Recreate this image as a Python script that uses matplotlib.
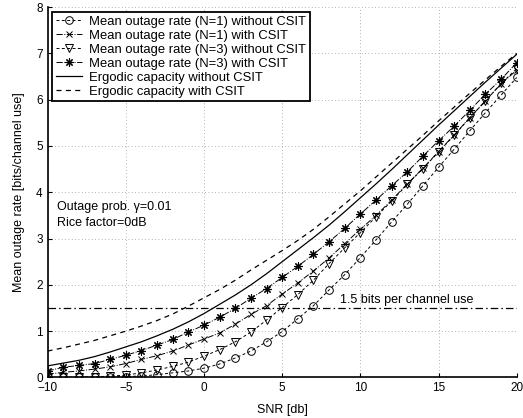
import matplotlib
matplotlib.use('Agg')
import matplotlib.pyplot as plt

plt.rcParams['font.family'] = ['Liberation Sans', 'DejaVu Sans']
plt.rcParams['font.size'] = 8

snr = list(range(-10, 21))

# Mean outage rate, N=1, without CSIT (circles)
n1_no_csit = [0.0, 0.0, 0.0, 0.01, 0.01, 0.02, 0.03, 0.06, 0.10, 0.14,
              0.20, 0.29, 0.42, 0.57, 0.77, 0.99, 1.27, 1.55, 1.89, 2.22,
              2.59, 2.97, 3.36, 3.74, 4.14, 4.54, 4.93, 5.33, 5.72, 6.10, 6.48]
# Mean outage rate, N=1, with CSIT (x)
n1_csit = [0.07, 0.11, 0.14, 0.18, 0.23, 0.30, 0.39, 0.47, 0.57, 0.70,
           0.83, 0.96, 1.15, 1.36, 1.55, 1.80, 2.04, 2.30, 2.58, 2.89,
           3.20, 3.50, 3.83, 4.18, 4.52, 4.88, 5.24, 5.61, 5.98, 6.34, 6.64]
# Mean outage rate, N=3, without CSIT (triangles)
n3_no_csit = [0.0, 0.0, 0.01, 0.01, 0.03, 0.05, 0.10, 0.16, 0.24, 0.33,
              0.46, 0.60, 0.77, 0.98, 1.24, 1.51, 1.79, 2.10, 2.46, 2.80,
              3.13, 3.47, 3.81, 4.17, 4.51, 4.87, 5.23, 5.61, 5.97, 6.35, 6.67]
# Mean outage rate, N=3, with CSIT (stars)
n3_csit = [0.14, 0.22, 0.26, 0.30, 0.39, 0.48, 0.58, 0.70, 0.82, 0.98,
           1.13, 1.30, 1.49, 1.71, 1.92, 2.16, 2.40, 2.66, 2.93, 3.22,
           3.53, 3.83, 4.14, 4.44, 4.78, 5.11, 5.43, 5.77, 6.12, 6.44, 6.80]
# Ergodic capacity
erg_no_csit = [0.25, 0.31, 0.37, 0.45, 0.55, 0.66, 0.77, 0.90, 1.04, 1.20,
               1.38, 1.58, 1.78, 2.00, 2.24, 2.50, 2.76, 3.02, 3.29, 3.58,
               3.88, 4.18, 4.49, 4.81, 5.13, 5.45, 5.76, 6.07, 6.38, 6.68, 6.98]
erg_csit = [0.57, 0.64, 0.72, 0.80, 0.90, 1.00, 1.11, 1.23, 1.37, 1.54,
            1.72, 1.90, 2.10, 2.32, 2.53, 2.74, 2.96, 3.20, 3.47, 3.75,
            4.03, 4.33, 4.63, 4.93, 5.23, 5.54, 5.84, 6.14, 6.43, 6.72, 7.00]

target_rate = 1.5

fig = plt.figure(figsize=(5.23, 4.18), dpi=100)
ax = fig.add_axes([0.091, 0.097, 0.897, 0.886])

ax.plot(snr, n1_no_csit, '--', color='k', lw=0.7, marker='o', ms=5.5,
        mfc='none', mew=0.7, dashes=(3, 2.5),
        label='Mean outage rate (N=1) without CSIT')
ax.plot(snr, n1_csit, '-.', color='k', lw=0.7, marker='x', ms=4,
        mew=0.7, label='Mean outage rate (N=1) with CSIT')
ax.plot(snr, n3_no_csit, '--', color='k', lw=0.7, marker='v', ms=5.5,
        mfc='none', mew=0.7, dashes=(3, 2.5),
        label='Mean outage rate (N=3) without CSIT')
ax.plot(snr, n3_csit, '-.', color='k', lw=0.7, marker=(8, 2, 0), ms=6,
        mew=0.8, label='Mean outage rate (N=3) with CSIT')
ax.plot(snr, erg_no_csit, '-', color='k', lw=0.9,
        label='Ergodic capacity without CSIT')
ax.plot(snr, erg_csit, '--', color='k', lw=0.9, dashes=(4, 3.5),
        label='Ergodic capacity with CSIT')

ax.plot([snr[0], snr[-1]], [target_rate, target_rate], color='k', lw=0.9,
        dashes=(6, 2.5, 1.2, 2.5))
ax.text(8.7, 1.68, '1.5 bits per channel use', fontsize=9, va='center')

ax.text(-9.4, 3.68, 'Outage prob. \u03b3=0.01', fontsize=9, va='center')
ax.text(-9.4, 3.33, 'Rice factor=0dB', fontsize=9, va='center')

ax.set_xlim(-10, 20)
ax.set_ylim(0, 8)
ax.set_xticks([-10, -5, 0, 5, 10, 15, 20])
ax.set_yticks(range(0, 9))
ax.set_xticklabels(['\u221210', '\u22125', '0', '5', '10', '15', '20'])
ax.grid(True, linestyle=(0, (1, 3)), color='#999999', lw=0.6)
ax.tick_params(direction='in', length=3, width=0.8, labelsize=8.5)
for side in ['top', 'right']:
    ax.spines[side].set_visible(False)
for side in ['left', 'bottom']:
    ax.spines[side].set_linewidth(1.2)

ax.set_xlabel('SNR [db]', fontsize=9, labelpad=7)
ax.set_ylabel('Mean outage rate [bits/channel use]', fontsize=9, labelpad=8)

leg = ax.legend(loc='upper left', fontsize=9.4, handlelength=2.0,
                handletextpad=0.5, labelspacing=0.14, borderpad=0.3,
                borderaxespad=0.35, fancybox=False, framealpha=1)
leg.get_frame().set_edgecolor('k')
leg.get_frame().set_linewidth(1.3)

fig.savefig('out.png', dpi=100)
